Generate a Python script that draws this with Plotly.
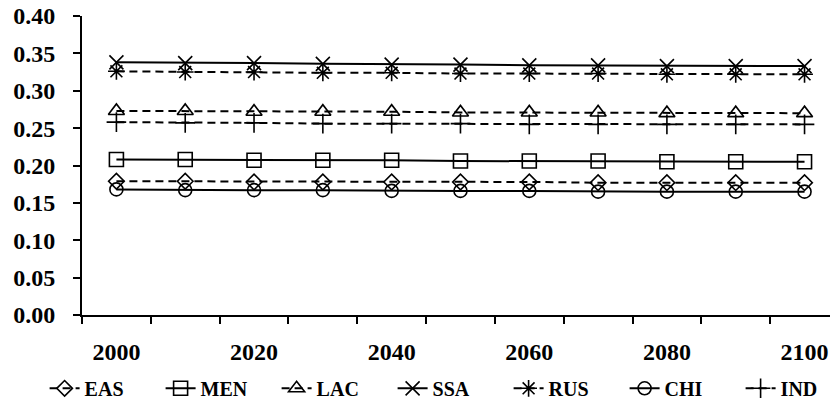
import plotly.graph_objects as go

years = [2000, 2010, 2020, 2030, 2040, 2050, 2060, 2070, 2080, 2090, 2100]
tick_years = [2000, 2020, 2040, 2060, 2080, 2100]
y_ticks = [0.00, 0.05, 0.10, 0.15, 0.20, 0.25, 0.30, 0.35, 0.40]

EAS = [0.179, 0.179, 0.178, 0.178, 0.178, 0.178, 0.178, 0.177, 0.177, 0.177, 0.177]
MEN = [0.208, 0.208, 0.207, 0.207, 0.207, 0.206, 0.206, 0.206, 0.205, 0.205, 0.205]
LAC = [0.273, 0.273, 0.272, 0.272, 0.272, 0.271, 0.271, 0.271, 0.270, 0.270, 0.270]
SSA = [0.338, 0.337, 0.337, 0.336, 0.335, 0.335, 0.334, 0.334, 0.333, 0.333, 0.333]
RUS = [0.326, 0.325, 0.325, 0.324, 0.324, 0.323, 0.323, 0.323, 0.322, 0.322, 0.322]
CHI = [0.168, 0.167, 0.167, 0.167, 0.166, 0.166, 0.166, 0.165, 0.165, 0.165, 0.165]
IND = [0.258, 0.257, 0.257, 0.256, 0.256, 0.256, 0.255, 0.255, 0.255, 0.255, 0.255]

series = [
    ("EAS", EAS, "8px,5px", "diamond-open", 12),
    ("MEN", MEN, "solid", "square-open", 14),
    ("LAC", LAC, "8px,5px", "triangle-up-open", 14),
    ("SSA", SSA, "solid", "x-thin-open", 14),
    ("RUS", RUS, "8px,5px", "asterisk-open", 14),
    ("CHI", CHI, "solid", "circle-open", 13),
    ("IND", IND, "8px,5px", "cross-thin-open", 14),
]

FONT = "Liberation Serif, Times New Roman, serif"

fig = go.Figure()
for name, vals, dash, sym, size in series:
    fig.add_trace(go.Scatter(
        x=years, y=vals, name=name, mode="lines+markers",
        line=dict(color="black", width=2, dash=dash),
        marker=dict(symbol=sym, size=size, color="black",
                    line=dict(color="black", width=1.6)),
    ))

fig.update_layout(
    width=830, height=404,
    margin=dict(l=82, r=0, t=16, b=89, autoexpand=False),
    paper_bgcolor="white", plot_bgcolor="white",
    font=dict(family=FONT, color="black", size=20, weight="bold"),
    showlegend=True,
    legend=dict(orientation="h", x=-0.05, xanchor="left", y=-0.18, yanchor="top",
                font=dict(family=FONT, size=20, color="black", weight="bold"),
                entrywidth=71, tracegroupgap=0, bgcolor="rgba(0,0,0,0)"),
)
fig.update_xaxes(
    range=[1995, 2103.7], tickvals=tick_years, ticktext=[str(t) for t in tick_years],
    ticks="", showline=True, linecolor="black", linewidth=2, showgrid=False,
    zeroline=False, tickfont=dict(family=FONT, size=24, weight="bold"),
    ticklabelstandoff=14, automargin=False, ticklabeloverflow="allow",
    minor=dict(tick0=1995, dtick=10, ticks="outside", ticklen=7, tickwidth=2,
               tickcolor="black", showgrid=False),
)
fig.update_yaxes(
    range=[0, 0.40], tickvals=y_ticks, ticktext=[f"{v:.2f}" for v in y_ticks],
    ticks="outside", ticklen=7, tickwidth=2, tickcolor="black",
    showline=True, linecolor="black", linewidth=2, showgrid=False, zeroline=False,
    tickfont=dict(family=FONT, size=24, weight="bold"), ticklabelstandoff=13,
    automargin=False, ticklabeloverflow="allow",
)

fig.write_html(
    "out.html",
    config={"displayModeBar": False},
    post_script="document.body.style.margin='0';document.body.style.overflow='hidden';",
)
